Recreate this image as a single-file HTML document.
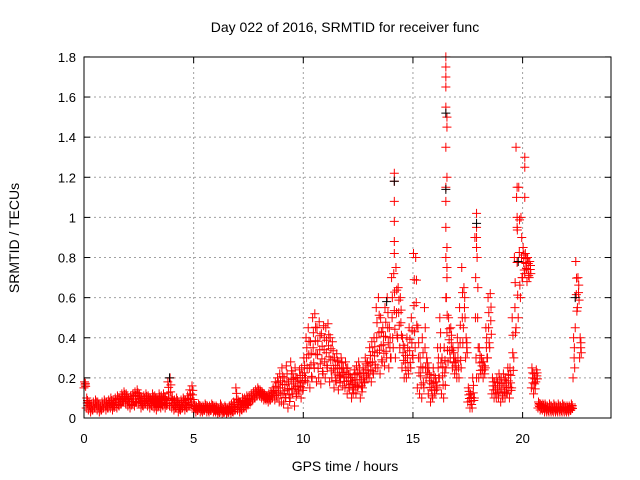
<!DOCTYPE html>
<html><head><meta charset="utf-8"><style>
body{margin:0;background:#fff}
svg{display:block;font-family:"Liberation Sans",sans-serif}
</style></head><body>
<svg id="chart" width="640" height="480">
<rect width="640" height="480" fill="#fff"/>
<g id="grid"></g>
<g id="marks"></g>
<rect x="84" y="57" width="527" height="361" fill="none" stroke="#000" stroke-width="1"/>
<g id="axes"></g>
<text x="345" y="32" font-size="14" text-anchor="middle">Day 022 of 2016, SRMTID for receiver func</text>
<text x="345" y="471" font-size="14" text-anchor="middle">GPS time / hours</text>
<text x="19" y="238" font-size="14" text-anchor="middle" transform="rotate(-90 19 238)">SRMTID / TECUs</text>
</svg>
<script>
const xTicks=[0,5,10,15,20];
const yTicks=[0,0.2,0.4,0.6,0.8,1,1.2,1.4,1.6,1.8];
const yTickLabels=["0","0.2","0.4","0.6","0.8","1","1.2","1.4","1.6","1.8"];
const startHour=0, stepHours=0.1;
const lowValues=[.15,.05,.04,.03,.04,.05,.04,.03,.04,.05,
.04,.05,.05,.04,.06,.05,.06,.07,.08,.07,
.06,.05,.07,.06,.08,.07,.05,.06,.07,.06,
.05,.06,.05,.04,.06,.05,.06,.05,.07,.06,
.05,.04,.05,.03,.04,.05,.04,.05,.06,.07,
.04,.03,.04,.03,.03,.04,.03,.03,.04,.03,
.03,.02,.03,.02,.03,.02,.03,.02,.03,.04,
.04,.03,.04,.05,.05,.07,.08,.09,.1,.11,
.11,.1,.09,.09,.08,.09,.1,.09,.1,.08,
.08,.07,.1,.05,.1,.12,.06,.12,.13,.1,
.15,.2,.18,.15,.2,.25,.18,.2,.17,.22,
.2,.25,.18,.2,.15,.18,.14,.2,.16,.15,
.12,.15,.1,.14,.12,.16,.1,.15,.18,.2,
.2,.18,.22,.25,.25,.22,.28,.26,.3,.25,
.3,.35,.3,.4,.35,.25,.2,.2,.22,.25,
.3,.35,.15,.12,.1,.15,.2,.12,.08,.1,
.12,.15,.2,.12,.1,.25,.28,.3,.25,.22,
.2,.2,.25,.45,.3,.08,.05,.05,.1,.2,
.2,.22,.2,.25,.3,.35,.12,.1,.1,.1,
.08,.1,.1,.12,.1,.15,.3,.45,.5,.6,
.7,.72,.68,.7,.15,.12,.18,.05,.04,.04,
.03,.03,.03,.03,.03,.03,.03,.03,.03,.03,
.03,.03,.04,.2,.45,.55,.3];
const highValues=[.18,.1,.08,.07,.08,.09,.08,.07,.08,.09,
.08,.09,.1,.09,.1,.11,.1,.12,.13,.12,
.1,.11,.12,.13,.14,.12,.1,.11,.12,.11,
.1,.12,.11,.1,.12,.11,.12,.1,.18,.2,
.1,.09,.1,.08,.09,.1,.09,.11,.14,.16,
.07,.06,.07,.06,.06,.07,.06,.06,.07,.06,
.06,.05,.07,.05,.06,.05,.06,.07,.08,.15,
.09,.08,.1,.1,.11,.11,.12,.13,.14,.15,
.14,.13,.12,.11,.12,.13,.15,.18,.2,.22,
.25,.2,.26,.18,.28,.22,.25,.2,.24,.25,
.3,.4,.45,.38,.5,.52,.45,.48,.42,.46,
.45,.47,.4,.38,.3,.32,.28,.3,.25,.28,
.25,.22,.2,.24,.26,.28,.22,.25,.3,.28,
.35,.38,.4,.55,.6,.5,.45,.55,.6,.45,
.7,.72,.75,.65,.6,.4,.35,.4,.45,.5,
.82,.8,.45,.3,.4,.55,.3,.25,.2,.25,
.2,.35,.5,.3,.35,.6,.5,.45,.35,.3,
.4,.55,.75,.65,.4,.15,.12,.2,.9,.8,
.35,.3,.28,.45,.6,.62,.2,.18,.2,.22,
.2,.22,.2,.25,.25,.5,.8,1.1,1.15,1.0,
.85,.82,.8,.78,.25,.22,.24,.08,.07,.07,
.07,.06,.07,.06,.07,.06,.07,.06,.07,.06,
.06,.06,.07,.4,.78,.7,.4];
const spikeHours=[14.15,14.15,14.15,14.15,14.15,14.15,16.5,16.5,16.5,16.5,16.5,16.5,16.5,16.5,16.5,16.5,16.5,16.55,16.55,16.55,16.55,16.55,16.55,17.9,17.9,17.9,17.9,19.7,19.75,19.75,19.75,20.1,20.1,20.1];
const spikeValues=[1.22,1.18,0.98,1.08,0.88,0.82,1.8,1.75,1.7,1.65,1.55,1.35,1.15,1.08,0.95,0.8,0.6,1.5,1.45,1.2,0.85,0.75,0.7,1.02,0.95,0.9,0.85,1.35,1.15,1.0,0.95,1.3,1.25,1.1];
const blackHours=[16.5,16.5,17.9,14.15,19.8,13.8,22.4,3.9];
const blackValues=[1.52,1.14,0.97,1.18,0.78,0.58,0.6,0.2];

const NS="http://www.w3.org/2000/svg";
const xS=h=>84+h*21.93;
const yS=v=>418-v*200.6;
function mk(tag,attrs,parent){const e=document.createElementNS(NS,tag);for(const k in attrs)e.setAttribute(k,attrs[k]);parent.appendChild(e);return e;}
const grid=document.getElementById('grid'),axes=document.getElementById('axes'),marks=document.getElementById('marks');
yTicks.forEach((v,i)=>{
 const y=yS(v);
 if(i>0&&i<yTicks.length-1){const g=mk('line',{x1:84,x2:611,y1:y,y2:y,stroke:'#a0a0a0','stroke-dasharray':'2,3'},grid);
 
 }
 const t=mk('line',{x1:84,x2:90,y1:y,y2:y,stroke:'#000'},axes);
 
 
 const t2=mk('line',{x1:605,x2:611,y1:y,y2:y,stroke:'#000'},axes);
 
 
 const l=mk('text',{x:76,y:y+5,'font-size':13,'text-anchor':'end'},axes);l.textContent=yTickLabels[i];
 
 
});
xTicks.forEach(h=>{
 const x=xS(h);
 if(h>0){const g=mk('line',{x1:x,x2:x,y1:57,y2:418,stroke:'#a0a0a0','stroke-dasharray':'2,3'},grid);
 
 }
 const t=mk('line',{x1:x,x2:x,y1:412,y2:418,stroke:'#000'},axes);
 
 
 const t2=mk('line',{x1:x,x2:x,y1:57,y2:63,stroke:'#000'},axes);
 
 
 const l=mk('text',{x:x,y:443,'font-size':13,'text-anchor':'middle'},axes);l.textContent=String(h);
 
 
});
function plus(h,v,color){
 const x=xS(h),y=yS(v);
 const p=mk('path',{d:`M${x-4.5} ${y}H${x+4.5}M${x} ${y-4.5}V${y+4.5}`,stroke:color,'stroke-width':1,fill:'none'},marks);
 
 
}
lowValues.forEach((v,i)=>{
 const h=startHour+i*stepHours;const hi=highValues[i];
 plus(h,v,'#ff0000');plus(h+0.05,(v+hi)/2,'#ff0000');plus(h+0.025,hi,'#ff0000');
 plus(h+0.075,(v*3+hi)/4,'#ff0000');plus(h+0.06,(v+hi*3)/4,'#ff0000');
});
spikeHours.forEach((h,i)=>plus(h,spikeValues[i],'#ff0000'));
blackHours.forEach((h,i)=>plus(h,blackValues[i],'#000000'));
</script>
</body></html>
